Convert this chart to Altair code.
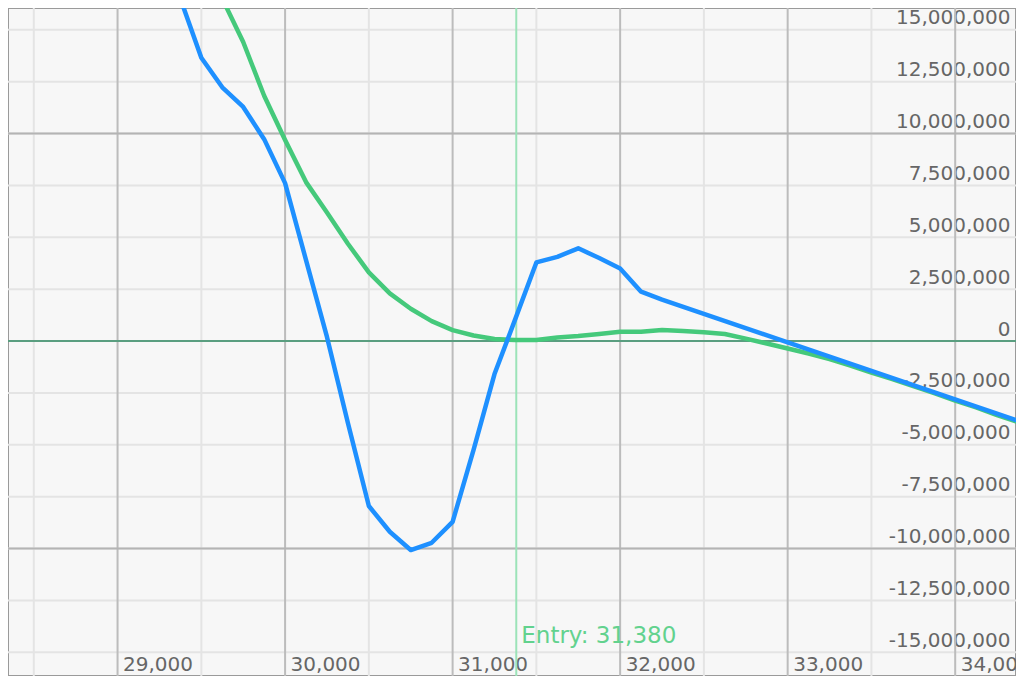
import altair as alt
import pandas as pd

# ---- data ----
entry_price = 31380

blue_x = [29375, 29500, 29625, 29750, 29875, 30000, 30125, 30250, 30375, 30500,
          30625, 30750, 30875, 31000, 31125, 31250, 31375, 31500, 31625, 31750,
          31875, 32000, 32125, 32250, 34500]
blue_y = [16.5, 13.65, 12.23, 11.28, 9.73, 7.61, 3.9, 0.2, -3.95, -7.95,
          -9.19, -10.07, -9.72, -8.71, -5.24, -1.59, 1.08, 3.79, 4.06, 4.47,
          4.0, 3.5, 2.38, 2.0, -4.19]

green_x = [29500, 29625, 29750, 29875, 30000, 30125, 30250, 30375, 30500, 30625,
           30750, 30875, 31000, 31125, 31250, 31375, 31500, 31625, 31750, 31875,
           32000, 32125, 32250, 32375, 32500, 32625, 32750, 32875, 33000, 33125,
           33250, 33375, 33500, 33625, 33750, 33875, 34000, 34125, 34250, 34375,
           34500]
green_y = [18.5, 16.5, 14.41, 11.82, 9.69, 7.66, 6.2, 4.69, 3.31, 2.30,
           1.56, 0.96, 0.53, 0.27, 0.1, 0.05, 0.05, 0.17, 0.24, 0.34,
           0.45, 0.45, 0.53, 0.48, 0.43, 0.34, 0.12, -0.12, -0.36, -0.6,
           -0.87, -1.18, -1.52, -1.83, -2.17, -2.51, -2.87, -3.2, -3.57, -3.9,
           -4.27]

x_major = [29000, 30000, 31000, 32000, 33000, 34000]
x_minor = [28500, 29500, 30500, 31500, 32500, 33500]
y_ticks = [15000000, 12500000, 10000000, 7500000, 5000000, 2500000, 0,
           -2500000, -5000000, -7500000, -10000000, -12500000, -15000000]
y_major = [10000000, -10000000]

# ---- tables ----
blue_df = pd.DataFrame({"price": blue_x, "pnl": [v * 1e6 for v in blue_y]})
green_df = pd.DataFrame({"price": green_x, "pnl": [v * 1e6 for v in green_y]})
xmaj_df = pd.DataFrame({"price": x_major})
xmin_df = pd.DataFrame({"price": x_minor})
ygrid_df = pd.DataFrame({"pnl": y_ticks})
ymaj_df = pd.DataFrame({"pnl": y_major})

FONT = "DejaVu Sans"
LABEL_COLOR = "#666666"
LABEL_EXPR = "replace(format(datum.value, ',.0f'), '\u2212', '-')"

W, H = 1008, 668

x_scale = alt.Scale(domain=[28346, 34363], nice=False, zero=False)
y_scale = alt.Scale(domain=[-16140000, 16050000], nice=False, zero=False)

x_axis = alt.Axis(values=x_major, labelExpr=LABEL_EXPR, grid=False, domain=False,
                  ticks=False, labelAlign="left", labelBaseline="alphabetic",
                  labelPadding=-6, labelOffset=5, labelFlush=False, labelOverlap=False,
                  labelBound=False, labelFont=FONT, labelFontSize=20,
                  labelColor=LABEL_COLOR, title=None)
y_axis = alt.Axis(orient="right", values=y_ticks, labelExpr=LABEL_EXPR, grid=False,
                  domain=False, ticks=False, labelAlign="right",
                  labelBaseline="alphabetic", labelPadding=-6, labelOffset=-6,
                  labelFlush=False, labelOverlap=False, labelBound=False,
                  labelFont=FONT, labelFontSize=20, labelColor=LABEL_COLOR,
                  title=None)


def X(field="price"):
    return alt.X(f"{field}:Q", scale=x_scale, axis=x_axis)


def Y(field="pnl"):
    return alt.Y(f"{field}:Q", scale=y_scale, axis=y_axis)


minor_y = alt.Chart(ygrid_df).mark_rule(color="#e4e4e4", strokeWidth=2).encode(y=Y())
minor_x = alt.Chart(xmin_df).mark_rule(color="#e4e4e4", strokeWidth=2).encode(x=X())
major_x = alt.Chart(xmaj_df).mark_rule(color="#bcbcbc", strokeWidth=2).encode(x=X())
major_y = alt.Chart(ymaj_df).mark_rule(color="#b4b4b4", strokeWidth=2).encode(y=Y())

zero_line = alt.Chart(pd.DataFrame({"pnl": [0]})).mark_rule(
    color="#5a9e80", strokeWidth=2).encode(y=Y())

entry_rule = alt.Chart(pd.DataFrame({"price": [entry_price]})).mark_rule(
    color="#9be3b8", strokeWidth=2).encode(x=X())

entry_text = alt.Chart(pd.DataFrame({"price": [entry_price]})).mark_text(
    text=f"Entry: {entry_price:,}", align="left", baseline="alphabetic",
    font=FONT, fontSize=23, color="#62d28e", dx=5
).encode(x=X(), y=alt.value(635))

green_line = alt.Chart(green_df).mark_line(
    color="#45c97b", strokeWidth=4.5, clip=True, strokeJoin="round").encode(x=X(), y=Y())
blue_line = alt.Chart(blue_df).mark_line(
    color="#1e90ff", strokeWidth=4.5, clip=True, strokeJoin="round").encode(x=X(), y=Y())

chart = alt.layer(
    minor_y, minor_x, major_x, major_y, zero_line, entry_rule, entry_text,
    green_line, blue_line
).properties(
    width=W, height=H,
    autosize=alt.AutoSizeParams(type="none"),
    padding=0,
    background="#f7f7f7",
).configure_view(
    stroke="#9a9a9a", strokeWidth=2, fill="#f7f7f7"
)

chart.save("out.html", embed_options={"renderer": "svg", "actions": False})
